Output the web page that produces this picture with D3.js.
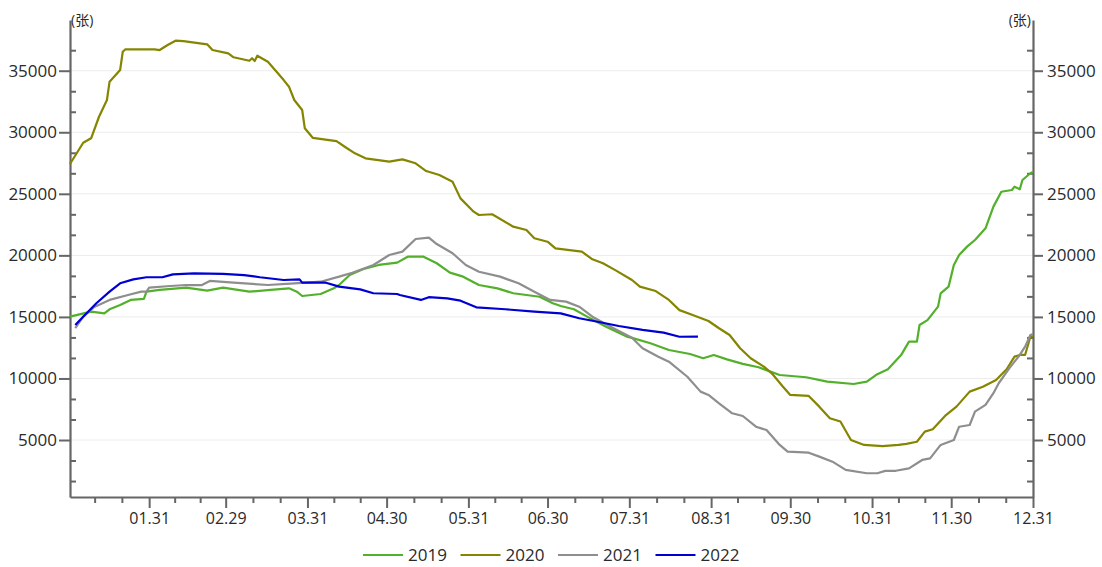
<!DOCTYPE html>
<html><head><meta charset="utf-8">
<script src="https://cdn.jsdelivr.net/npm/d3@7"></script>
<style>
body{margin:0;background:#fff;}
svg{display:block;font-family:"Open Sans","Noto Sans","Noto Sans CJK SC",sans-serif;}
</style>
</head><body>
<svg id="chart" width="1102" height="567"></svg>
<script>
// ---------- data ----------
const years = ["2019", "2020", "2021", "2022"];
const colors = ["#52b02a", "#858500", "#8e8e8e", "#0000d2"];
const yTicks = [5000, 10000, 15000, 20000, 25000, 30000, 35000];
const xTickLabels = ["01.31","02.29","03.31","04.30","05.31","06.30","07.31","08.31","09.30","10.31","11.30","12.31"];
const unitLabel = "(张)";

const s2019 = [["01-01",15020],["01-09",15430],["01-14",15290],["01-16",15620],["01-20",15970],["01-24",16380],["01-29",16460],["01-30",17050],["02-04",17190],["02-14",17380],["02-22",17130],["02-28",17380],["03-09",17050],["03-17",17190],["03-24",17320],["03-27",17050],["03-29",16700],["04-05",16860],["04-10",17320],["04-12",17590],["04-16",18400],["04-21",18870],["04-27",19220],["05-04",19410],["05-08",19890],["05-14",19890],["05-19",19360],["05-24",18600],["05-29",18270],["06-04",17590],["06-11",17320],["06-17",16920],["06-27",16640],["07-02",16110],["07-05",15890],["07-10",15620],["07-15",15020],["07-22",14220],["07-30",13400],["08-01",13300],["08-08",12860],["08-15",12310],["08-23",11990],["08-28",11640],["09-01",11910],["09-06",11550],["09-12",11180],["09-18",10910],["09-26",10280],["10-06",10100],["10-14",9740],["10-24",9550],["10-29",9740],["11-02",10350],["11-06",10750],["11-11",11900],["11-14",12990],["11-17",12990],["11-18",14340],["11-21",14740],["11-25",15830],["11-26",16910],["11-29",17460],["12-01",19220],["12-03",20030],["12-06",20710],["12-09",21250],["12-13",22200],["12-16",23960],["12-19",25170],["12-23",25310],["12-24",25580],["12-26",25370],["12-27",26120],["12-30",26670],["12-31",26770]];

const s2020 = [["01-01",27420],["01-06",29150],["01-09",29510],["01-12",31260],["01-15",32620],["01-16",34110],["01-20",35060],["01-21",36540],["01-22",36740],["02-02",36740],["02-04",36680],["02-07",37090],["02-10",37440],["02-13",37400],["02-22",37140],["02-24",36680],["03-01",36410],["03-03",36090],["03-09",35810],["03-10",36010],["03-11",35790],["03-12",36220],["03-16",35730],["03-22",34240],["03-24",33700],["03-26",32620],["03-29",31810],["03-30",30320],["04-02",29550],["04-11",29280],["04-15",28700],["04-18",28290],["04-22",27880],["05-01",27610],["05-06",27800],["05-11",27480],["05-15",26850],["05-20",26530],["05-25",25980],["05-28",24630],["06-02",23550],["06-04",23280],["06-09",23340],["06-17",22330],["06-22",22060],["06-25",21390],["06-30",21110],["07-03",20570],["07-13",20300],["07-17",19680],["07-21",19360],["07-26",18760],["08-01",18000],["08-04",17460],["08-10",17100],["08-15",16380],["08-19",15550],["08-24",15160],["08-30",14670],["09-03",14080],["09-07",13530],["09-11",12450],["09-15",11640],["09-20",10960],["09-23",10420],["09-27",9390],["09-30",8660],["10-07",8580],["10-11",7710],["10-15",6770],["10-19",6500],["10-23",5000],["10-28",4600],["11-04",4510],["11-10",4600],["11-13",4680],["11-17",4860],["11-20",5680],["11-23",5870],["11-28",7030],["12-02",7710],["12-07",8930],["12-12",9330],["12-17",9880],["12-21",10750],["12-24",11770],["12-26",11910],["12-28",11910],["12-30",13390],["12-31",13450]];

const s2021 = [["01-03",14080],["01-06",15020],["01-10",15780],["01-16",16380],["01-23",16780],["01-28",17050],["01-30",17050],["01-31",17380],["02-08",17510],["02-14",17590],["02-20",17590],["02-23",17920],["03-03",17780],["03-16",17590],["03-26",17730],["04-05",17860],["04-12",18270],["04-17",18590],["04-25",19220],["05-01",20030],["05-06",20300],["05-11",21330],["05-16",21440],["05-19",20920],["05-25",20170],["05-30",19220],["06-04",18670],["06-12",18270],["06-19",17730],["06-25",17050],["07-01",16380],["07-07",16240],["07-12",15830],["07-17",15020],["07-25",14080],["08-01",13300],["08-05",12450],["08-11",11770],["08-15",11360],["08-22",10140],["08-27",8930],["08-30",8660],["09-03",7980],["09-08",7170],["09-12",6950],["09-17",6080],["09-21",5810],["09-26",4600],["09-29",4050],["10-07",3970],["10-11",3650],["10-16",3240],["10-21",2570],["10-29",2300],["11-02",2300],["11-05",2490],["11-09",2500],["11-14",2700],["11-19",3380],["11-22",3510],["11-26",4600],["12-01",5000],["12-03",6080],["12-07",6220],["12-09",7300],["12-13",7850],["12-16",8800],["12-18",9610],["12-22",10820],["12-26",11910],["12-28",12580],["12-30",13530],["12-31",13600]];

const s2022 = [["01-03",14340],["01-06",15020],["01-11",16110],["01-16",17050],["01-20",17730],["01-25",18050],["01-30",18220],["02-05",18220],["02-09",18460],["02-17",18540],["02-28",18490],["03-07",18400],["03-13",18220],["03-22",18000],["03-28",18050],["03-29",17780],["04-07",17780],["04-12",17460],["04-20",17240],["04-25",16920],["05-04",16860],["05-05",16780],["05-13",16380],["05-16",16600],["05-23",16510],["05-28",16320],["06-03",15780],["06-14",15620],["06-25",15430],["07-05",15290],["07-12",14890],["07-19",14610],["07-27",14260],["08-05",13940],["08-13",13720],["08-19",13390],["08-26",13400]];

const seriesList = [s2019, s2020, s2021, s2022];

// ---------- layout ----------
const L = 70, R = 1033, T = 20, B = 497;
const axisColor = "#666";
const textColor = "#2a2a2a";

const parseMD = s => { const [m, d] = s.split(/[-.]/).map(Number); return new Date(2020, m - 1, d); };

const x = d3.scaleTime().domain([new Date(2020, 0, 1), new Date(2020, 11, 31)]).range([L, R]);
const y = d3.scaleLinear().domain([370, 39120]).range([B, T]);
const yFmt = d3.format("d");

const svg = d3.select("#chart");

// gridlines
svg.append("g").selectAll("line").data(yTicks).join("line")
  .attr("x1", L).attr("x2", R)
  .attr("y1", d => y(d)).attr("y2", d => y(d))
  .attr("stroke", "#ececec").attr("stroke-width", 1);

// minor ticks
const yMinor = [];
for (let v = 5000 / 3; v < 37000; v += 5000 / 3) {
  if (Math.abs(v / 5000 - Math.round(v / 5000)) > 0.01) yMinor.push(v);
}
const xMajor = xTickLabels.map(parseMD);
const xMinor = [];
const allMaj = [new Date(2019, 11, 31), ...xMajor];
for (let i = 0; i < allMaj.length - 1; i++) {
  const a = +allMaj[i], b = +allMaj[i + 1];
  xMinor.push(new Date(a + (b - a) / 3), new Date(a + 2 * (b - a) / 3));
}

function styleAxis(g) {
  g.selectAll("path.domain").attr("stroke", axisColor).attr("stroke-width", 2.2);
  g.selectAll(".tick line").attr("stroke", axisColor).attr("stroke-width", 2);
  g.selectAll(".tick text").attr("fill", textColor);
}

// x axis
svg.append("g").attr("transform", `translate(0,${B})`)
  .call(d3.axisBottom(x).tickValues(xMinor.filter(d => x(d) > L + 2)).tickSize(6).tickFormat("").tickSizeOuter(0))
  .call(styleAxis).call(g => g.select("path.domain").remove());
svg.append("g").attr("transform", `translate(0,${B})`)
  .call(d3.axisBottom(x).tickValues(xMajor).tickSize(11).tickPadding(5).tickSizeOuter(0)
    .tickFormat(d3.timeFormat("%m.%d")))
  .call(g => g.attr("font-size", 16).attr("font-family", null))
  .call(styleAxis);

// left axis
svg.append("g").attr("transform", `translate(${L},0)`)
  .call(d3.axisLeft(y).tickValues(yMinor).tickSize(-6).tickFormat("").tickSizeOuter(0))
  .call(styleAxis).call(g => g.select("path.domain").remove());
svg.append("g").attr("transform", `translate(${L},0)`)
  .call(d3.axisLeft(y).tickValues(yTicks).tickSize(11).tickPadding(2).tickSizeOuter(0).tickFormat(yFmt))
  .call(g => g.attr("font-size", 17).attr("font-family", null))
  .call(styleAxis);

// right axis
svg.append("g").attr("transform", `translate(${R},0)`)
  .call(d3.axisRight(y).tickValues(yMinor).tickSize(-6).tickFormat("").tickSizeOuter(0))
  .call(styleAxis).call(g => g.select("path.domain").remove());
svg.append("g").attr("transform", `translate(${R},0)`)
  .call(d3.axisRight(y).tickValues(yTicks).tickSize(10).tickPadding(4).tickSizeOuter(0).tickFormat(yFmt))
  .call(g => g.attr("font-size", 17).attr("font-family", null))
  .call(styleAxis);

// unit labels
svg.append("text").attr("x", L + 1).attr("y", 25).attr("font-size", 14)
  .attr("fill", textColor).text(unitLabel);
svg.append("text").attr("x", R - 2).attr("y", 25).attr("font-size", 14)
  .attr("text-anchor", "end").attr("fill", textColor).text(unitLabel);

// lines
const line = d3.line().x(d => x(parseMD(d[0]))).y(d => y(d[1]));
svg.append("g").selectAll("path").data(seriesList).join("path")
  .attr("d", line)
  .attr("fill", "none")
  .attr("stroke", (d, i) => colors[i])
  .attr("stroke-width", 2.2)
  .attr("stroke-linejoin", "round");

// legend
const legX0 = 363, legStep = 97.5, legY = 555;
const leg = svg.append("g").selectAll("g").data(years).join("g")
  .attr("transform", (d, i) => `translate(${legX0 + i * legStep},${legY})`);
leg.append("line").attr("x1", 0).attr("x2", 40).attr("y1", 0).attr("y2", 0)
  .attr("stroke", (d, i) => colors[i]).attr("stroke-width", 2);
leg.append("text").attr("x", 45).attr("y", 0).attr("dy", "0.36em")
  .attr("font-size", 17).attr("fill", textColor).text(d => d);
</script>
</body></html>
